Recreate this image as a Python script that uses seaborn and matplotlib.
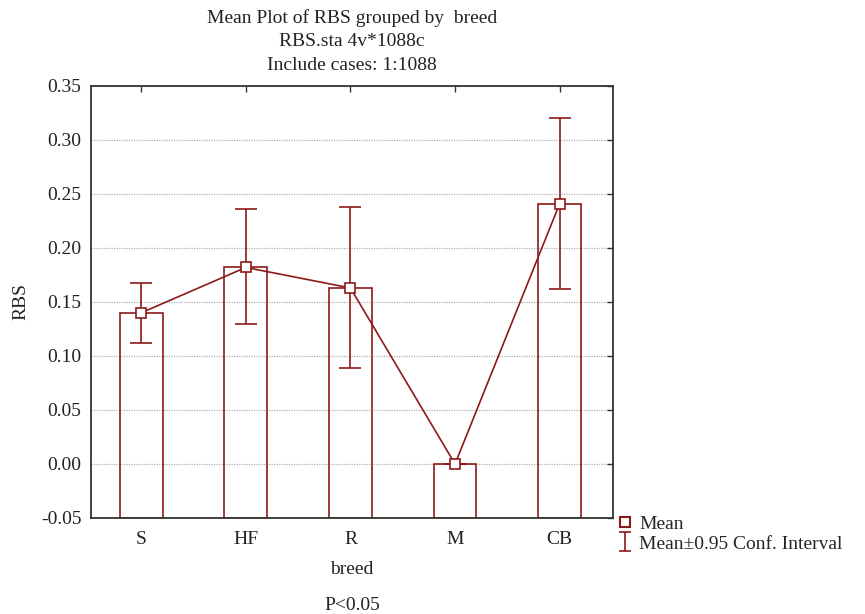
import matplotlib
matplotlib.use("Agg")
import matplotlib.pyplot as plt
import numpy as np
import pandas as pd
import seaborn as sns
from matplotlib.lines import Line2D

# Data
breeds = ["S", "HF", "R", "M", "CB"]
means = [0.140, 0.182, 0.163, 0.000, 0.241]
ci_low = [0.112, 0.130, 0.089, 0.000, 0.162]
ci_high = [0.168, 0.236, 0.238, 0.000, 0.320]
base = -0.05
yticks = [-0.05, 0.00, 0.05, 0.10, 0.15, 0.20, 0.25, 0.30, 0.35]

dark_red = "#8b1a1a"
text_col = "#222222"
fs = 14

df = pd.DataFrame({"breed": breeds, "mean": means, "lo": ci_low, "hi": ci_high})
df["height"] = df["mean"] - base

sns.set_style("white")
plt.rcParams["font.family"] = ["Liberation Serif", "DejaVu Serif"]
plt.rcParams["font.size"] = fs

fig = plt.figure(figsize=(8.65, 6.14), dpi=100)
ax = fig.add_axes([91 / 865, 1 - 518 / 614, (613 - 91) / 865, (518 - 86) / 614])

# bars from the bottom of the axis up to the mean
sns.barplot(data=df, x="breed", y="height", order=breeds, errorbar=None,
            width=0.41, fill=False, color=dark_red, linewidth=1.2,
            bottom=base, ax=ax)

# confidence intervals
ax.errorbar(range(len(breeds)), df["mean"],
            yerr=[df["mean"] - df["lo"], df["hi"] - df["mean"]],
            fmt="none", ecolor=dark_red, elinewidth=1.2, capsize=8,
            capthick=1.2, zorder=3)

# mean line with square markers
ax.plot(range(len(breeds)), df["mean"], color=dark_red, linewidth=1.2,
        marker="s", markersize=7, markerfacecolor="white",
        markeredgecolor=dark_red, markeredgewidth=1.2, zorder=4)

ax.set_xlim(-0.48, 4.51)
ax.set_ylim(-0.05, 0.35)
ax.set_yticks(yticks)
ax.set_yticklabels([f"{t:.2f}" for t in yticks])
ax.yaxis.grid(True, color="#b0b0b0", linestyle=(0, (1, 1)), linewidth=0.9)
ax.xaxis.grid(False)
ax.set_axisbelow(True)

for sp in ax.spines.values():
    sp.set_visible(True)
    sp.set_color("#333333")
    sp.set_linewidth(1.3)

ax.tick_params(axis="both", direction="in", length=4, width=1, color="#333333",
               top=True, right=True, labelsize=fs, labelcolor=text_col)
ax.tick_params(axis="y", pad=7)
ax.tick_params(axis="x", pad=9)

ax.set_xlabel("breed", fontsize=fs, labelpad=10, color=text_col)
ax.set_ylabel("RBS", fontsize=fs, labelpad=8, color=text_col)

fig.text(352 / 865, 1 - 41.5 / 614,
         "Mean Plot of RBS grouped by  breed\nRBS.sta 4v*1088c\nInclude cases: 1:1088",
         ha="center", va="center", fontsize=fs, linespacing=1.5, color=text_col)
fig.text(352 / 865, 1 - 606 / 614, "P<0.05", ha="center", va="center",
         fontsize=fs, color=text_col)

# legend handles
mean_handle = Line2D([], [], color=dark_red, marker="s", markersize=7,
                     markerfacecolor="white", markeredgewidth=1.5, linestyle="none")
ci_handle = ax.errorbar([np.nan], [np.nan], yerr=[[0.0], [0.0]], fmt="none",
                        ecolor=dark_red, elinewidth=1.2, capsize=4, capthick=1.2)
fig.legend([mean_handle, ci_handle], ["Mean", "Mean±0.95 Conf. Interval"],
           loc="upper left", bbox_to_anchor=(617 / 865, 1 - 515 / 614),
           frameon=False, handlelength=0.8, handletextpad=0.35,
           labelspacing=0.12, borderaxespad=0, borderpad=0, fontsize=fs)

fig.savefig("out.png", dpi=100)
